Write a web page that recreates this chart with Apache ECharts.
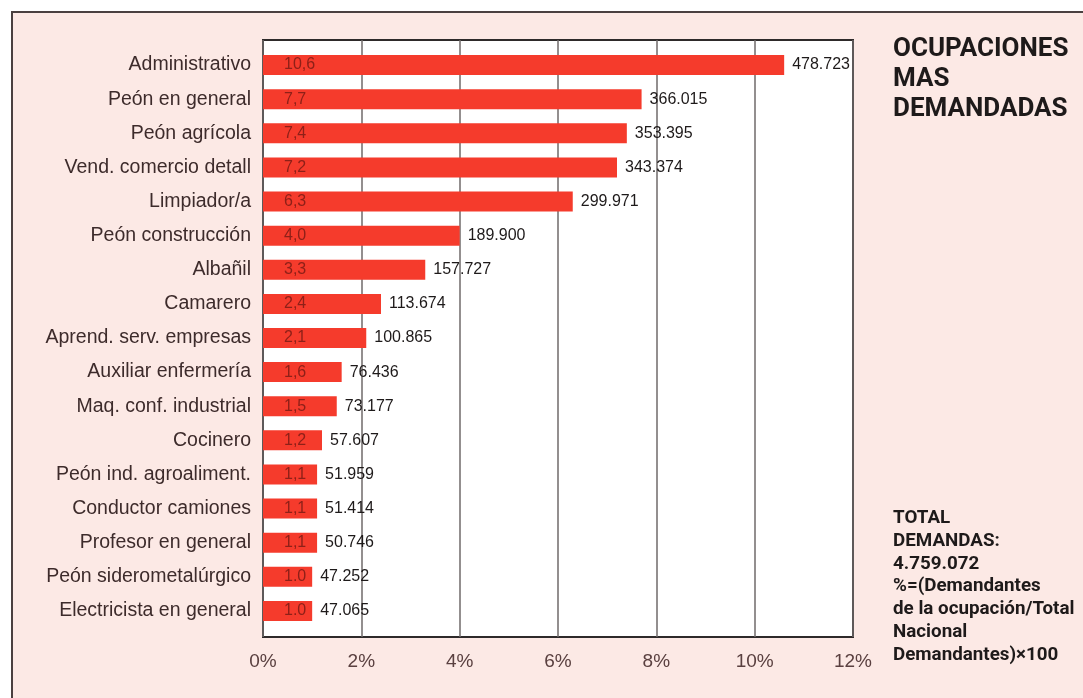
<!DOCTYPE html>
<html>
<head>
<meta charset="utf-8">
<script src="https://cdn.jsdelivr.net/npm/echarts@6/dist/echarts.min.js"></script>
<style>
html,body{margin:0;padding:0;background:#ffffff;}
#frame{position:absolute;left:11px;top:11px;width:1080px;height:700px;background:#fce9e5;border-left:2px solid #4a4040;border-top:2px solid #4a4040;}
#chart{position:absolute;left:0;top:0;width:1083px;height:698px;}
</style>
</head>
<body>
<div id="frame"></div>
<div id="chart"></div>
<script>
// ---- data ----
const categories = [
  "Administrativo","Peón en general","Peón agrícola","Vend. comercio detall",
  "Limpiador/a","Peón construcción","Albañil","Camarero",
  "Aprend. serv. empresas","Auxiliar enfermería","Maq. conf. industrial","Cocinero",
  "Peón ind. agroaliment.","Conductor camiones","Profesor en general","Peón siderometalúrgico",
  "Electricista en general"
];
const percents = [10.6,7.7,7.4,7.2,6.3,4.0,3.3,2.4,2.1,1.6,1.5,1.2,1.1,1.1,1.1,1.0,1.0];
const percentLabels = ["10,6","7,7","7,4","7,2","6,3","4,0","3,3","2,4","2,1","1,6","1,5","1,2","1,1","1,1","1,1","1.0","1.0"];
const demandantes = [478723,366015,353395,343374,299971,189900,157727,113674,100865,76436,73177,57607,51959,51414,50746,47252,47065];
const xTicks = [0,2,4,6,8,10,12];
const titleLines = ["OCUPACIONES","MAS","DEMANDADAS"];
const noteLines = ["TOTAL","DEMANDAS:","4.759.072","%=(Demandantes","de la ocupación/Total","Nacional","Demandantes)×100"];

function fmtThousands(n){ return String(n).replace(/\B(?=(\d{3})+(?!\d))/g, "."); }

const sans = "'Liberation Sans',Arial,sans-serif";
const boldFam = "Roboto,'DejaVu Sans',sans-serif";

const chart = echarts.init(document.getElementById('chart'), null, {renderer:'canvas'});

chart.setOption({
  backgroundColor: 'transparent',
  animation: false,
  title: [
    {text: titleLines.join('\n'), left: 893, top: 34, padding: 0,
     textStyle:{fontFamily: boldFam, fontWeight:'bold', fontSize:26, lineHeight:30, color:'#1e1a1a'}},
    {text: noteLines.join('\n'), left: 893, top: 507, padding: 0,
     textStyle:{fontFamily: boldFam, fontWeight:'bold', fontSize:18.8, lineHeight:22.8, color:'#1e1a1a'}}
  ],
  grid: [
    {left:263, top:40, width:590, height:597, show:true, backgroundColor:'#ffffff', borderColor:'#2e2a2a', borderWidth:2, containLabel:false},
    {left:263, top:48, width:590, height:580, show:false, containLabel:false}
  ],
  xAxis: [
    {gridIndex:0, type:'value', min:0, max:12, interval:2,
     axisLine:{show:false}, axisTick:{show:false},
     splitLine:{show:true, lineStyle:{color:'#6f6a6a', width:1.5}},
     axisLabel:{margin:15, formatter: v => xTicks.includes(v) ? v + '%' : '', fontFamily:sans, fontSize:19, color:'#5a4040'}},
    {gridIndex:1, type:'value', min:0, max:12, show:false}
  ],
  yAxis: [
    {gridIndex:0, type:'value', min:0, max:1, show:false},
    {gridIndex:1, type:'category', data:categories, inverse:true,
     axisLine:{show:false}, axisTick:{show:false}, splitLine:{show:false},
     axisLabel:{margin:12, fontFamily:sans, fontSize:19.5, color:'#3d2b2b'}}
  ],
  series: [
    {type:'bar', xAxisIndex:1, yAxisIndex:1, data:percents, barWidth:20,
     itemStyle:{color:'#f53b2c'},
     label:{show:true, position:'insideLeft', distance:21,
       formatter: p => percentLabels[p.dataIndex],
       fontFamily:sans, fontSize:16, color:'#8e2018'}},
    {type:'bar', xAxisIndex:1, yAxisIndex:1, data:percents, barWidth:20, barGap:'-100%',
     itemStyle:{color:'rgba(0,0,0,0)'},
     label:{show:true, position:'right', distance:8,
       formatter: p => fmtThousands(demandantes[p.dataIndex]),
       fontFamily:sans, fontSize:16, color:'#1e1a1a'}}
  ]
});
</script>
</body>
</html>
